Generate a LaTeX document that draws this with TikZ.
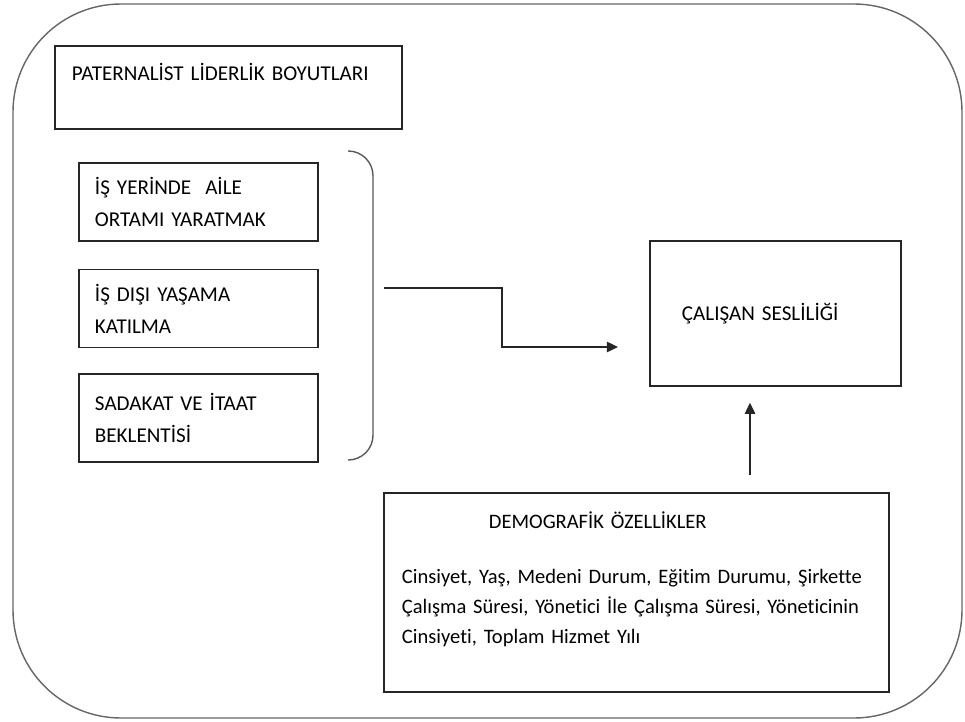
\documentclass[tikz,border=0pt]{standalone}
\usepackage{fontspec}
\setmainfont{Carlito}[Ligatures=NoCommon]
\usepackage{tikz}
\usetikzlibrary{arrows.meta, positioning}

\begin{document}
\begin{tikzpicture}[
    x=0.025cm, y=-0.025cm,
    node distance = 0.675cm,
    box/.style = {
      draw=black!85, line width=1pt,
      minimum width=5.975cm, minimum height=1.95cm,
      inner xsep=0.4cm, inner ysep=0pt,
      text width=5.175cm, align=left,
      font=\fontsize{15}{22.8}\selectfont
    },
    bigbox/.style = {
      box, minimum width=12.625cm, minimum height=4.975cm,
      inner xsep=0.45cm, text width=11.725cm,
      font=\fontsize{14.6}{21.3}\selectfont
    },
    frame/.style = {draw=black!60, line width=1pt, rounded corners=2.7cm},
    brc/.style = {draw=black!65, line width=1pt, rounded corners=0.62cm},
    arr/.style = {-{Triangle[length=8pt,width=7.5pt]}, line width=1pt, black!85},
  ]
    \useasboundingbox (0,0) rectangle (965,722);
    \draw[frame] (13,4) rectangle (962,718);

    % Left column: leadership dimensions
    \node[box, minimum width=8.675cm, minimum height=2.075cm,
          inner xsep=0.425cm, text width=7.825cm] (pat) at (228.5,87.5)
          {PATERNALİST LİDERLİK BOYUTLARI\\ \mbox{}};
    \node[box] (aile) at (198.5,202) {İŞ YERİNDE\ \ AİLE\\ORTAMI YARATMAK};
    \node[box, below=of aile] (disi) {İŞ DIŞI YAŞAMA\\KATILMA};
    \node[box, below=0.625cm of disi, minimum height=2.2cm] (sadakat)
          {SADAKAT VE İTAAT\\BEKLENTİSİ};

    % Right side: outcome and demographics
    \node[box, minimum width=6.275cm, minimum height=3.625cm,
          inner xsep=0.8cm, text width=4.675cm] (ses) at (775.5,313.5)
          {\raisebox{-0.1cm}{ÇALIŞAN SESLİLİĞİ}};
    \node[bigbox] (demo) at (636.5,592.5)
          {\hspace*{2.175cm}DEMOGRAFİK ÖZELLİKLER\\[0.625cm]
           \mbox{Cinsiyet, Yaş, Medeni Durum, Eğitim Durumu, Şirkette}\\
           \mbox{Çalışma Süresi, Yönetici İle Çalışma Süresi, Yöneticinin}\\
           Cinsiyeti, Toplam Hizmet Yılı\\
           \mbox{}};

    % Brace round the three dimensions
    \draw[brc] (349,151) -- (373,151) -- (373,460) -- (349,460);

    % Arrows
    \coordinate (brcmid) at (384,288);
    \coordinate (tip) at (618,347);
    \coordinate (upx) at (750,0);
    \draw[arr] (brcmid) -- ++(118,0) |- (tip);
    \draw[arr, shorten <=0.425cm, shorten >=0.4cm] (demo.north -| upx) -- (ses.south -| upx);
\end{tikzpicture}
\end{document}
